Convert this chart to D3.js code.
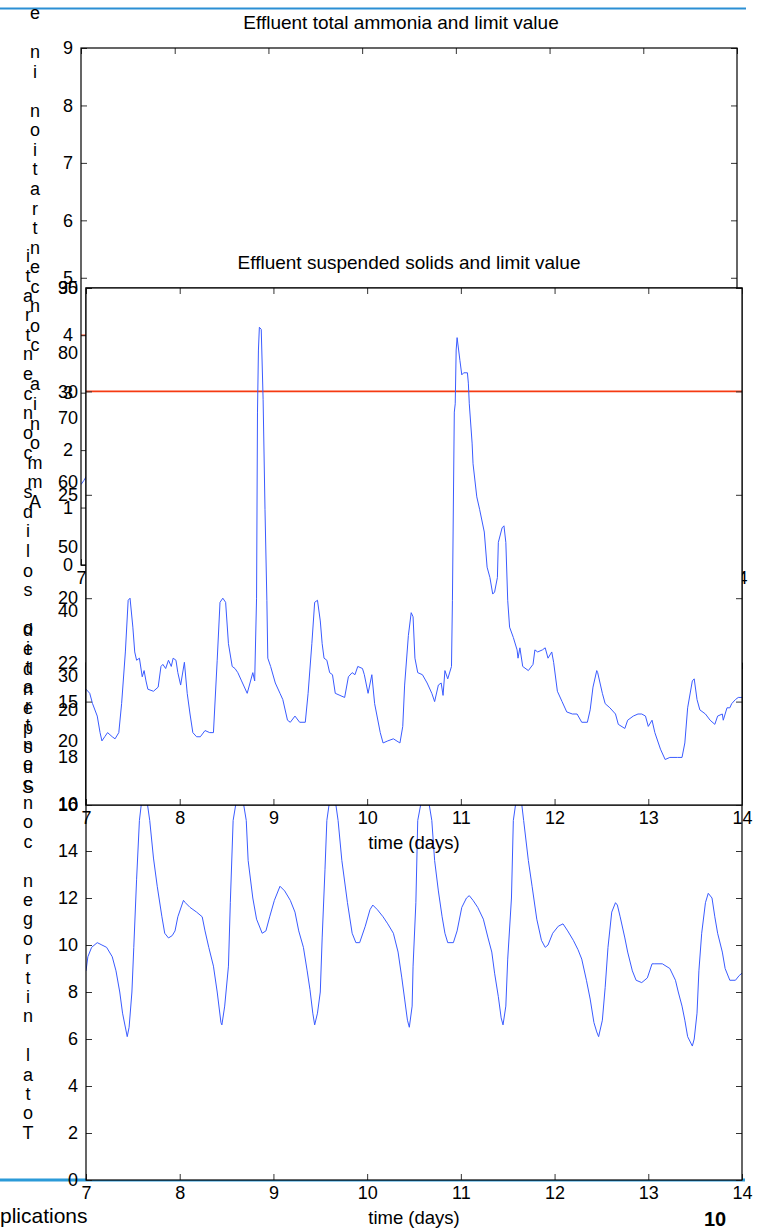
<!DOCTYPE html>
<html>
<head>
<meta charset="utf-8">
<script src="https://cdn.jsdelivr.net/npm/d3@7"></script>
<style>
  body { margin: 0; background: #fff; }
  svg { display: block; }
  text { font-family: "Liberation Sans", Arial, Helvetica, sans-serif; }
</style>
</head>
<body>
<svg id="fig" width="764" height="1231"></svg>
<script>
// ---- data ----
const dayTicks = [7, 8, 9, 10, 11, 12, 13, 14];

// suspended solids (g/m3)
const ssDays = [7.00,7.04,7.07,7.12,7.15,7.17,7.20,7.23,7.28,7.31,7.35,7.38,7.42,7.45,7.47,7.50,7.52,7.54,7.57,7.60,
  7.62,7.64,7.66,7.72,7.77,7.80,7.82,7.85,7.88,7.91,7.93,7.96,7.98,8.01,8.05,8.08,8.11,8.14,8.18,8.22,
  8.27,8.32,8.36,8.40,8.43,8.46,8.49,8.52,8.56,8.59,8.62,8.66,8.72,8.75,8.78,8.80,8.82,8.83,8.84,8.85,
  8.87,8.89,8.91,8.93,8.94,8.97,9.02,9.07,9.10,9.15,9.18,9.23,9.28,9.34,9.37,9.41,9.44,9.47,9.50,9.52,
  9.54,9.57,9.60,9.63,9.66,9.71,9.76,9.80,9.84,9.87,9.90,9.95,9.97,10.01,10.05,10.08,10.14,10.17,10.22,10.28,
  10.35,10.38,10.40,10.44,10.47,10.49,10.51,10.54,10.59,10.64,10.69,10.72,10.76,10.79,10.81,10.83,10.86,10.90,10.91,10.93,
  10.94,10.95,10.96,10.99,11.01,11.03,11.07,11.08,11.09,11.12,11.13,11.17,11.20,11.25,11.28,11.31,11.34,11.36,11.39,11.40,
  11.44,11.46,11.48,11.50,11.52,11.56,11.60,11.61,11.63,11.66,11.72,11.77,11.79,11.82,11.87,11.90,11.93,11.97,11.99,12.03,
  12.08,12.13,12.19,12.24,12.29,12.35,12.38,12.41,12.45,12.46,12.51,12.54,12.59,12.65,12.68,12.75,12.78,12.84,12.89,12.93,
  12.97,13.00,13.04,13.07,13.13,13.18,13.23,13.31,13.36,13.39,13.42,13.47,13.49,13.52,13.55,13.61,13.66,13.71,13.74,13.79,
  13.80,13.84,13.87,13.89,13.93,13.96,14.00];
const ssValues = [15.6,15.4,14.9,14.3,13.5,13.1,13.3,13.5,13.3,13.2,13.5,14.9,17.4,19.9,20.0,18.6,17.4,17.0,17.1,16.2,
  16.5,16.0,15.6,15.5,15.7,16.7,16.8,16.6,17.0,16.7,17.1,17.0,16.4,15.8,16.9,15.4,14.4,13.5,13.3,13.3,
  13.6,13.5,13.5,17.0,19.8,20.0,19.8,17.8,16.7,16.6,16.4,16.0,15.4,15.9,16.4,16.0,20.0,29.0,32.0,33.1,
  33.0,29.6,24.3,19.9,17.1,16.7,15.9,15.4,15.1,14.1,14.0,14.3,14.0,14.0,15.4,17.8,19.8,19.9,18.9,17.8,
  17.1,17.0,16.4,16.3,15.4,15.3,15.2,16.2,16.4,16.3,16.7,16.6,16.3,15.4,16.3,14.9,13.5,13.0,13.1,13.2,
  13.0,13.8,15.8,18.2,19.3,19.1,17.1,16.4,16.3,15.9,15.4,15.0,15.8,15.9,15.3,16.5,16.1,16.7,19.9,29.0,
  29.4,32.0,32.6,31.5,30.8,30.9,30.9,30.4,29.4,27.5,26.5,24.9,24.3,23.2,21.5,21.0,20.2,20.3,21.0,22.7,
  23.4,23.5,22.7,19.9,18.6,18.1,17.5,17.1,17.6,16.7,16.5,16.8,17.5,17.4,17.5,17.6,17.1,17.4,16.9,15.5,
  15.0,14.5,14.4,14.4,14.0,14.0,14.6,15.7,16.5,16.4,15.4,14.9,14.7,14.4,13.9,13.7,14.1,14.3,14.4,14.4,
  14.3,13.8,14.1,13.5,12.7,12.2,12.3,12.3,12.3,13.0,14.7,16.0,16.1,15.1,14.6,14.4,14.1,13.9,14.3,14.4,
  14.1,14.7,14.7,14.9,15.1,15.2,15.2];

// total nitrogen (g N/m3)
const tnDays = [7.00,7.02,7.06,7.12,7.17,7.22,7.28,7.32,7.36,7.39,7.44,7.46,7.49,7.51,7.54,7.57,7.62,7.68,7.72,7.76,
  7.81,7.84,7.88,7.92,7.95,7.98,8.04,8.06,8.11,8.18,8.24,8.27,8.31,8.36,8.40,8.44,8.45,8.48,8.52,8.54,
  8.57,8.64,8.71,8.73,8.78,8.82,8.88,8.92,8.96,9.01,9.07,9.12,9.18,9.23,9.27,9.32,9.36,9.39,9.42,9.44,
  9.47,9.50,9.52,9.55,9.57,9.63,9.69,9.73,9.79,9.84,9.88,9.92,9.98,10.03,10.06,10.11,10.17,10.22,10.28,10.33,
  10.37,10.40,10.43,10.45,10.48,10.49,10.52,10.54,10.62,10.69,10.72,10.76,10.80,10.83,10.86,10.92,10.96,11.01,11.06,11.09,
  11.13,11.18,11.24,11.29,11.33,11.36,11.40,11.43,11.45,11.48,11.50,11.54,11.56,11.62,11.67,11.72,11.76,11.81,11.86,11.90,
  11.93,11.98,12.04,12.09,12.14,12.20,12.25,12.29,12.34,12.38,12.42,12.45,12.47,12.51,12.54,12.57,12.61,12.65,12.67,12.70,
  12.75,12.78,12.83,12.87,12.93,12.99,13.04,13.07,13.15,13.23,13.29,13.32,13.36,13.39,13.42,13.47,13.49,13.52,13.54,13.57,
  13.61,13.64,13.68,13.71,13.74,13.79,13.82,13.87,13.93,13.97,14.00];
const tnValues = [8.9,9.5,9.9,10.1,10.0,9.9,9.5,8.9,8.0,7.1,6.1,6.5,8.0,9.9,12.8,15.3,17.0,15.3,13.7,12.5,
  11.2,10.5,10.3,10.4,10.6,11.2,11.9,11.8,11.6,11.4,11.2,10.6,9.9,9.1,8.0,6.7,6.6,7.4,9.1,11.8,
  15.3,17.0,15.3,13.6,12.0,11.1,10.5,10.6,11.2,11.9,12.5,12.3,11.9,11.4,10.6,9.9,8.9,8.1,7.1,6.6,
  7.1,8.0,10.3,13.2,15.3,17.0,15.3,13.6,11.8,10.5,10.1,10.1,10.8,11.5,11.7,11.5,11.2,10.9,10.5,9.7,
  8.6,7.7,6.8,6.5,7.4,9.1,11.8,15.3,17.0,15.3,13.6,12.3,11.2,10.5,10.1,10.1,10.6,11.6,12.0,12.1,
  11.9,11.6,11.1,10.3,9.7,8.8,7.8,6.9,6.6,7.4,9.4,12.0,15.3,17.0,15.3,13.6,12.5,11.1,10.2,9.9,
  10.0,10.5,10.8,10.9,10.6,10.2,9.8,9.4,8.5,7.7,6.7,6.3,6.1,6.8,8.2,9.9,11.4,11.8,11.7,11.2,
  10.3,9.7,8.9,8.5,8.4,8.6,9.2,9.2,9.2,9.0,8.5,8.0,7.4,6.8,6.1,5.7,6.0,7.1,8.9,10.5,
  11.8,12.2,12.0,11.2,10.5,9.7,9.0,8.5,8.5,8.7,8.8];

// total ammonia (g N/m3), only the start shows from under the solids panel
const nhDays = [7.00, 7.03, 7.06];
const nhValues = [1.40, 1.47, 1.55];

// limits
const nhLimit = [4];
const ssLimit = [30];
const tnLimit = [18];

// tick labels per panel
const nhTicks = [0, 1, 2, 3, 4, 5, 6, 7, 8, 9];
const ssTicks = [10, 15, 20, 25, 30, 35];
const wideTicks = [10, 20, 30, 40, 50, 60, 70, 80, 90];
const tnTicks = [0, 2, 4, 6, 8, 10, 12, 14, 16, 18, 20, 22];

const labelTN = "Total nitrogen concentratio";
const labelNH = "Ammonia concentration in e";
const labelSS = "Suspended solids concentrati";

var svg = d3.select("#fig");

const blue = "#3a5bff";
const red = "#f53a12";

// slide decoration lines
svg.append("line").attr("x1", 0).attr("x2", 746).attr("y1", 8.5).attr("y2", 8.5)
    .attr("stroke", "#2b8fd4").attr("stroke-width", 2);
svg.append("line").attr("x1", 0).attr("x2", 745).attr("y1", 1180).attr("y2", 1180)
    .attr("stroke", "#2b9ad8").attr("stroke-width", 3);

const drawPanel = (p) => {
    var w = p.width, h = p.height;
    var g = svg.append("g").attr("transform", "translate(" + p.left + "," + p.top + ")");
    var x = d3.scaleLinear().domain([7, 14]).range([0, w]);
    var y = d3.scaleLinear().domain(p.yDomain).range([h, 0]);

    g.append("rect").attr("width", w).attr("height", h).attr("fill", "#fff");

    var clipId = "clip-" + p.id;
    g.append("clipPath").attr("id", clipId).append("rect").attr("width", w).attr("height", h);
    var body = g.append("g").attr("clip-path", "url(#" + clipId + ")");

    if (p.limit) {
        body.selectAll("line.limit").data(p.limit).enter().append("line")
            .attr("class", "limit")
            .attr("x1", 0).attr("x2", w)
            .attr("y1", d => y(d)).attr("y2", d => y(d))
            .attr("stroke", red).attr("stroke-width", 1.6);
    }
    if (p.days) {
        body.append("path")
            .datum(d3.zip(p.days, p.values))
            .attr("d", d3.line().x(d => x(d[0])).y(d => y(d[1])))
            .attr("fill", "none").attr("stroke", blue).attr("stroke-width", 1);
    }

    var axes = [];
    axes.push(g.append("g").attr("transform", "translate(0," + h + ")")
        .call(d3.axisBottom(x).tickValues(dayTicks).tickSize(-6).tickSizeOuter(0).tickPadding(6)
            .tickFormat(p.xLabels ? d3.format("d") : "")));
    axes.push(g.append("g")
        .call(d3.axisTop(x).tickValues(dayTicks).tickSize(-6).tickSizeOuter(0).tickFormat("")));
    axes.push(g.append("g")
        .call(d3.axisLeft(y).tickValues(p.yTicks).tickSize(-6).tickSizeOuter(0).tickPadding(8)
            .tickFormat(d3.format("d"))));
    axes.push(g.append("g").attr("transform", "translate(" + w + ",0)")
        .call(d3.axisRight(y).tickValues(p.yTicks).tickSize(-6).tickSizeOuter(0).tickFormat("")));
    axes.forEach(a => {
        a.attr("font-family", null).attr("font-size", null);
        a.select(".domain").remove();
        a.selectAll(".tick line").attr("stroke", "#333");
        a.selectAll(".tick text").attr("fill", "#000").style("font-size", "18px");
    });

    g.append("rect").attr("width", w).attr("height", h)
        .attr("fill", "none").attr("stroke", "#000").attr("stroke-width", 1.2);

    if (p.title) {
        g.append("text").attr("x", w / 2 + p.titleShift).attr("y", -19).attr("text-anchor", "middle")
            .style("font-size", "19px").text(p.title);
    }
    if (p.xTitle) {
        g.append("text").attr("x", w / 2).attr("y", h + 44).attr("text-anchor", "middle")
            .style("font-size", "18.5px").text(p.xTitle);
    }
};

// bottom layer first: total nitrogen
drawPanel({id: "tn", left: 86, top: 663, width: 656, height: 517, yDomain: [0, 22], yTicks: tnTicks,
    days: tnDays, values: tnValues, limit: tnLimit, xLabels: true, xTitle: "time (days)"});
// ammonia
drawPanel({id: "nh", left: 81, top: 48, width: 656, height: 517, yDomain: [0, 9], yTicks: nhTicks,
    days: nhDays, values: nhValues, limit: nhLimit, xLabels: true,
    title: "Effluent total ammonia and limit value", titleShift: -8});
// a second axes left under the solids panel
drawPanel({id: "wide", left: 86, top: 288, width: 656, height: 517, yDomain: [10, 90], yTicks: wideTicks,
    xLabels: false});
// suspended solids on top
drawPanel({id: "ss", left: 86, top: 288, width: 656, height: 517, yDomain: [10, 35], yTicks: ssTicks,
    days: ssDays, values: ssValues, limit: ssLimit, xLabels: true,
    title: "Effluent suspended solids and limit value", titleShift: -5, xTitle: "time (days)"});

// y labels, drawn as stacked upright letters running upward
const drawStackedLabel = (txt, cx, bottomY, pitch) => {
    svg.append("g").selectAll("text")
        .data(Array.from(txt))
        .enter()
        .append("text")
        .attr("x", cx)
        .attr("y", (d, i) => bottomY - i * pitch)
        .attr("dy", "0.32em")
        .attr("text-anchor", "middle")
        .style("font-size", "18px")
        .text(d => d);
};
drawStackedLabel(labelTN, 28, 1133, 19.4);
drawStackedLabel(labelSS, 28, 787, 19.65);
drawStackedLabel(labelNH, 35, 502, 19.55);

// footer of the slide
svg.append("text").attr("x", 0).attr("y", 1223).style("font-size", "21px").text("plications");
svg.append("text").attr("x", 715).attr("y", 1226).attr("text-anchor", "middle")
    .style("font-size", "20px").style("font-weight", "bold").text("10");
</script>
</body>
</html>
